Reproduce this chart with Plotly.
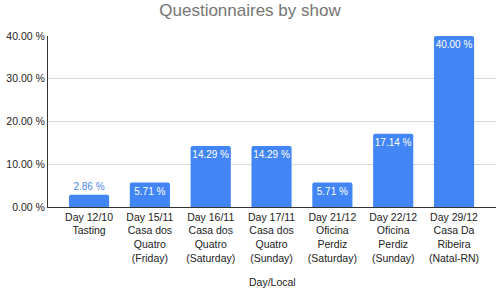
import plotly.graph_objects as go

categories = [
    "Day 12/10<br>Tasting",
    "Day 15/11<br>Casa dos<br>Quatro<br>(Friday)",
    "Day 16/11<br>Casa dos<br>Quatro<br>(Saturday)",
    "Day 17/11<br>Casa dos<br>Quatro<br>(Sunday)",
    "Day 21/12<br>Oficina<br>Perdiz<br>(Saturday)",
    "Day 22/12<br>Oficina<br>Perdiz<br>(Sunday)",
    "Day 29/12<br>Casa Da<br>Ribeira<br>(Natal-RN)",
]
values = [2.86, 5.71, 14.29, 14.29, 5.71, 17.14, 40.00]
tick_vals = [0, 10, 20, 30, 40]
tick_text = ["0.00 %", "10.00 %", "20.00 %", "30.00 %", "40.00 %"]

labels = [f"{v:.2f} %" for v in values]
positions = ["outside" if v < 5 else "inside" for v in values]

fig = go.Figure(go.Bar(
    x=list(range(len(categories))),
    y=values,
    text=labels,
    textposition=positions,
    insidetextanchor="end",
    textangle=0,
    cliponaxis=False,
    insidetextfont=dict(color="white", size=10, family="Liberation Sans, Arial"),
    outsidetextfont=dict(color="#4a86e8", size=10, family="Liberation Sans, Arial"),
    marker=dict(color="#4285f4", line=dict(width=0), cornerradius=2),
    width=0.66,
))

fig.update_layout(
    width=500, height=290,
    margin=dict(l=48, r=4, t=36, b=83, autoexpand=False),
    paper_bgcolor="white", plot_bgcolor="white",
    title=dict(text="Questionnaires by show", x=0.5, xanchor="center",
               y=1 - 10.5 / 290, yanchor="middle",
               font=dict(size=17, color="#757575", family="Liberation Sans, Arial")),
    font=dict(family="Liberation Sans, Arial", color="#222222", size=10),
    showlegend=False,
    uniformtext=dict(minsize=10, mode="show"),
    annotations=[dict(text="Day/Local", x=0.5, xref="paper",
                      y=-(282 - 207) / (207 - 36), yref="paper", yanchor="middle",
                      showarrow=False, font=dict(size=10.5, color="#222222"))],
)
fig.update_xaxes(
    tickmode="array", tickvals=list(range(len(categories))), ticktext=categories,
    range=[-0.675, 6.69], showgrid=False, ticks="", tickangle=0, automargin=False,
    showline=True, linecolor="#333333", linewidth=1,
    tickfont=dict(size=10.5, color="#222222"),
)
fig.update_yaxes(
    range=[0, 40], tickvals=tick_vals, ticktext=tick_text, automargin=False,
    showgrid=True, gridcolor="#d9d9d9", gridwidth=1,
    zeroline=False, showline=True, linecolor="#333333", linewidth=1,
    tickfont=dict(size=10.5, color="#222222"), ticks="",
)

fig.write_html("out.html", config={"displayModeBar": False},
               post_script="document.body.style.margin='0px';")
